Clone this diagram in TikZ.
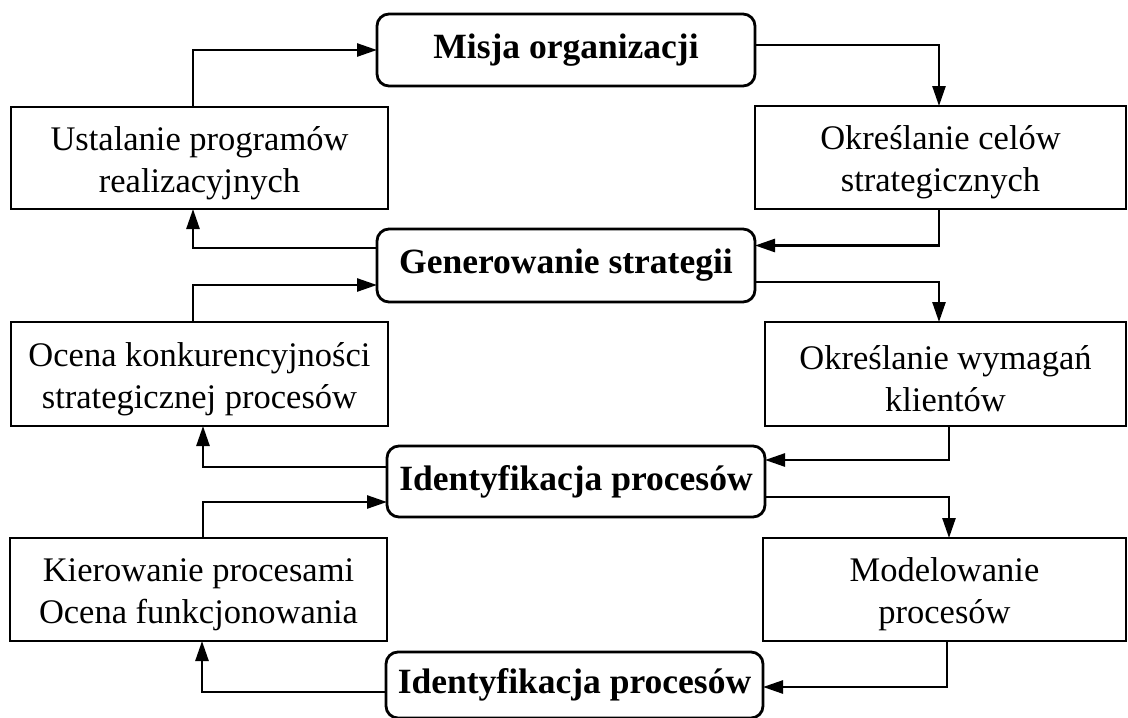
\documentclass[tikz,border=0pt]{standalone}
\usepackage{fontspec}
\setmainfont{Liberation Serif}
\usetikzlibrary{arrows.meta}
\newcommand{\toplift}{\rule{0pt}{34pt}}
\begin{document}
\begin{tikzpicture}[x=1pt,y=-1pt,
  box/.style={draw, line width=2.8pt, inner sep=0pt, outer sep=0pt, align=center,
    font=\fontsize{34.5}{42}\selectfont},
  rbox/.style={box, rounded corners=12pt, font=\fontsize{35.5}{42}\selectfont\bfseries},
  conn/.style={line width=2.6pt, -{Triangle[length=20pt,width=13pt]}}]
\useasboundingbox (0,0) rectangle (1128,718);
\fill[white] (0,0) rectangle (1128,718);
% nodes
\node[rbox, minimum width=378pt, minimum height=72pt] (misja) at (566,50) {Misja organizacji};
\node[box, minimum width=377pt, minimum height=102pt] (ustal) at (199.5,158) {\toplift Ustalanie programów\\realizacyjnych};
\node[box, minimum width=371pt, minimum height=103pt] (cele) at (940.5,157.5) {\toplift Określanie celów\\strategicznych};
\node[rbox, minimum width=378pt, minimum height=73pt] (gen) at (566,265.5) {Generowanie strategii};
\node[box, minimum width=377pt, minimum height=104pt] (ocena) at (199.5,374) {\toplift Ocena konkurencyjności\\strategicznej procesów};
\node[box, minimum width=361pt, minimum height=104pt] (wym) at (945.5,374) {\toplift Określanie wymagań\\klientów};
\node[rbox, minimum width=378pt, minimum height=71pt] (id1) at (576,481.5) {Identyfikacja procesów};
\node[box, minimum width=377pt, minimum height=103pt] (kier) at (198.5,589.5) {\toplift Kierowanie procesami\\Ocena funkcjonowania};
\node[box, minimum width=363pt, minimum height=103pt] (model) at (944.5,589.5) {\toplift Modelowanie\\procesów};
\node[rbox, minimum width=377pt, minimum height=66pt] (id2) at (574.5,685) {Identyfikacja procesów};
% connectors
\draw[conn] ([xshift=-6.5pt]ustal.north) |- (misja.west);
\draw[conn] ([yshift=5pt]misja.east) -| ([xshift=-1.5pt]cele.north);
\draw[conn] ([xshift=-1.5pt]cele.south) |- ([yshift=20pt]gen.east);
\draw[conn] ([yshift=-16.5pt]gen.east) -| ([xshift=-6.5pt]wym.north);
\draw[conn] ([yshift=17.5pt]gen.west) -| ([xshift=-6.5pt]ustal.south);
\draw[conn] ([xshift=-6.5pt]ocena.north) |- ([yshift=-19.5pt]gen.west);
\draw[conn] ([xshift=3.5pt]wym.south) |- ([yshift=21.5pt]id1.east);
\draw[conn] ([yshift=-15.5pt]id1.east) -| ([xshift=4.5pt]model.north);
\draw[conn] ([yshift=14.5pt]id1.west) -| ([xshift=3.5pt]ocena.south);
\draw[conn] ([xshift=4.5pt]kier.north) |- ([yshift=-20.5pt]id1.west);
\draw[conn] ([xshift=2.5pt]model.south) |- ([yshift=-2pt]id2.east);
\draw[conn] ([yshift=-7pt]id2.west) -| ([xshift=3.5pt]kier.south);
\end{tikzpicture}
\end{document}
